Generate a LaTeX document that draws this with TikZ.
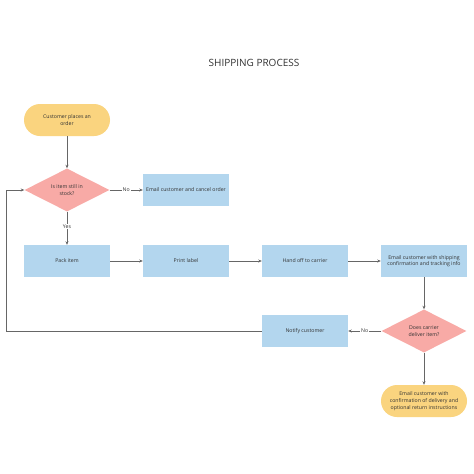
\documentclass[tikz,border=0pt]{standalone}
\usepackage{fontspec}
\setmainfont{Open Sans}
\usetikzlibrary{shapes.geometric,arrows.meta}
\definecolor{term}{HTML}{FAD47F}
\definecolor{dec}{HTML}{F8AAA6}
\definecolor{proc}{HTML}{B3D6EE}
\definecolor{txt}{HTML}{333333}
\definecolor{ln}{HTML}{666666}
\begin{document}
\begin{tikzpicture}[x=1pt,y=-1pt,
  every node/.style={text=txt,font=\fontsize{5.2}{6.7}\selectfont,align=center},
  procbox/.style={fill=proc,minimum width=86pt,minimum height=32pt,inner sep=1pt},
  termbox/.style={fill=term,rounded corners=16pt,minimum width=86pt,minimum height=32pt,inner sep=1pt},
  decbox/.style={fill=dec,diamond,aspect=2,minimum width=85pt,minimum height=43pt,inner sep=0pt},
  conn/.style={draw=ln,line width=0.6pt,-{Stealth[length=3.5pt,width=3pt]}},
  lbl/.style={fill=white,inner sep=1pt}]
\useasboundingbox (0,0) rectangle (474,474);
\fill[white] (0,0) rectangle (474,474);
\node[font=\fontsize{10}{12}\selectfont] (title) at (254,63) {SHIPPING PROCESS};
\node[termbox] (start) at (67,120) {Customer places an\\order};
\node[decbox] (d1) at (67,190) {Is item still in\\stock?};
\node[procbox] (cancel) at (186,190) {Email customer and cancel order};
\node[procbox] (pack) at (67,261) {Pack item};
\node[procbox] (print) at (186,261) {Print label};
\node[procbox] (hand) at (305,261) {Hand off to carrier};
\node[procbox] (ship) at (424,261) {Email customer with shipping\\confirmation and tracking info};
\node[decbox] (d2) at (424,331) {Does carrier\\deliver item?};
\node[procbox] (notify) at (305,331) {Notify customer};
\node[termbox] (end) at (424,401) {Email customer with\\confirmation of delivery and\\optional return instructions};
\coordinate (lb) at (6,331);
\coordinate (lt) at (6,190);
\draw[conn] (start) -- (d1);
\draw[conn] (d1) -- node[lbl]{No} (cancel);
\draw[conn] (d1) -- node[lbl,pos=0.45]{Yes} (pack);
\draw[conn] (pack) -- (print);
\draw[conn] (print) -- (hand);
\draw[conn] (hand) -- (ship);
\draw[conn] (ship) -- (d2);
\draw[conn] (d2) -- node[lbl]{No} (notify);
\draw[conn] (d2) -- (end);
\draw[conn] (notify) -- (lb) -- (lt) -- (d1);
\end{tikzpicture}
\end{document}
